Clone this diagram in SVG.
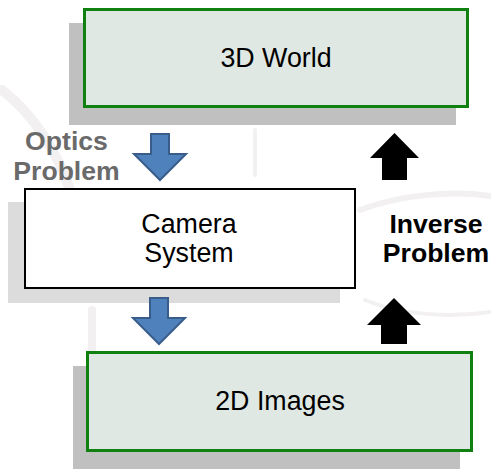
<svg xmlns="http://www.w3.org/2000/svg" width="491" height="469" viewBox="0 0 491 469">
  <style>
    .shadow { fill: #c0c0c0; }
    .shadow-light { fill: #dcdcdc; }
    .green-box { fill: #e0e8e3; stroke: #108010; stroke-width: 3; }
    .white-box { fill: #ffffff; stroke: #000000; stroke-width: 2; }
    .label { font-family: "Liberation Sans", Arial, sans-serif; font-size: 26.8px; fill: #000000; text-anchor: middle; }
    .side { font-family: "Liberation Sans", Arial, sans-serif; font-size: 26.6px; font-weight: bold; text-anchor: middle; }
    .blue-arrow { fill: #4f81bd; stroke: #385d8a; stroke-width: 2; stroke-linejoin: miter; }
    .black-arrow { fill: #000000; }
    .mark { fill: none; stroke: #f3f0f1; stroke-linecap: round; }
  </style>
  <defs>
    <!-- downward block arrow, origin at top centre of the shaft -->
    <polygon id="down" points="-9,0 9,0 9,20 26,20 0,46 -26,20 -9,20"/>
  </defs>

  <rect width="491" height="469" fill="#ffffff"/>

  <!-- faint background watermark -->
  <g id="watermark">
    <path class="mark" stroke-width="10" d="M2,90 C40,120 70,170 80,230"/>
    <path class="mark" stroke-width="6" d="M360,210 C400,195 450,190 491,196"/>
    <path class="mark" stroke-width="4" d="M365,300 C400,315 450,318 491,312"/>
    <path class="mark" stroke-width="8" d="M92,310 L92,350"/>
    <path class="mark" stroke-width="4" d="M255,130 L255,175"/>
  </g>

  <!-- 3D World -->
  <g id="world">
    <rect class="shadow" x="69" y="23" width="387" height="102"/>
    <rect class="green-box" x="84.5" y="9.5" width="383" height="97"/>
    <text class="label" x="276" y="67">3D World</text>
  </g>

  <!-- Camera System -->
  <g id="camera">
    <rect class="shadow-light" x="8" y="202" width="332" height="101"/>
    <rect class="white-box" x="25" y="189" width="330" height="99"/>
    <text class="label" x="189" y="233">Camera</text>
    <text class="label" x="189" y="262">System</text>
  </g>

  <!-- 2D Images -->
  <g id="images">
    <rect class="shadow" x="73" y="366" width="387" height="103"/>
    <rect class="green-box" x="87.5" y="352.5" width="384" height="98"/>
    <text class="label" x="280" y="410">2D Images</text>
  </g>

  <!-- side labels -->
  <g id="optics-label">
    <text class="side" fill="#6a6a6a" x="66.5" y="150">Optics</text>
    <text class="side" fill="#6a6a6a" x="66.5" y="180">Problem</text>
  </g>
  <g id="inverse-label">
    <text class="side" fill="#000000" x="436" y="233">Inverse</text>
    <text class="side" fill="#000000" x="436" y="262">Problem</text>
  </g>

  <!-- connectors -->
  <g id="connectors">
    <use href="#down" class="blue-arrow" x="160" y="134"/>
    <use href="#down" class="blue-arrow" x="159" y="298"/>
    <polygon class="black-arrow" points="394.5,133 419,158 407,158 407,180 382,180 382,158 370,158"/>
    <polygon class="black-arrow" points="394,298 421,325 407,325 407,344 381,344 381,325 367,325"/>
  </g>
</svg>
